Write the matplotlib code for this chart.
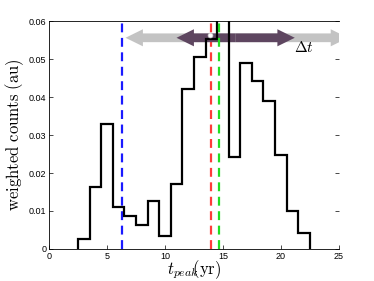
#!/usr/bin/env python3
import numpy as np
import matplotlib
matplotlib.use("Agg")
import matplotlib.pyplot as plt
from matplotlib.patches import FancyArrow

# histogram of peak times (bin centres 3..22 yr)
bin_edges = np.arange(2.5, 23.0, 1.0)
counts = [0.0025, 0.0163, 0.0330, 0.0110, 0.0086, 0.0063, 0.0125, 0.0033,
          0.0172, 0.0420, 0.0505, 0.0553, 0.0620, 0.0243, 0.0490, 0.0443,
          0.0390, 0.0247, 0.0101, 0.0043]

# reference times (dashed lines)
t_blue = 6.3
t_red = 13.95
t_green = 14.65

# arrow ranges
grey_range = (6.6, 25.8)
purple_range = (11.0, 21.2)
arrow_y = 0.0556
mark_x, mark_y = 13.9, 0.0563

plt.rcParams["mathtext.fontset"] = "cm"

fig = plt.figure(figsize=(3.74, 2.81), dpi=100)
ax = fig.add_axes([0.131, 0.114, 0.775, 0.811])

ax.stairs(counts, bin_edges, baseline=0, color="black", lw=1.6, zorder=3)

ax.axvline(t_blue, color="#1a1aff", ls=(0, (4, 2.5)), lw=1.6, zorder=2)
ax.axvline(t_red, color="#ff3b3b", ls=(0, (4, 2.5)), lw=1.6, zorder=2)
ax.axvline(t_green, color="#22dd22", ls=(0, (4, 2.5)), lw=1.6, zorder=4)


def double_arrow(x0, x1, y, color, z):
    mid = 0.5 * (x0 + x1)
    for end in (x0, x1):
        ax.add_patch(FancyArrow(mid, y, end - mid, 0, width=0.0023,
                                head_width=0.0045, head_length=1.5,
                                length_includes_head=True, lw=0,
                                color=color, zorder=z))


double_arrow(grey_range[0], grey_range[1], arrow_y, "#c3c3c3", 1)
double_arrow(purple_range[0], purple_range[1], arrow_y, "#5e4660", 2)
ax.plot([mark_x], [mark_y], "o", ms=3.5, mfc="white", mec="#cccccc",
        mew=0.5, zorder=5)
ax.text(21.1, 0.0530, r"$\Delta t$", fontsize=11, ha="left", va="center")

ax.set_xlim(0, 25)
ax.set_ylim(0, 0.06)
ax.set_xticks([0, 5, 10, 15, 20, 25])
ax.set_yticks([0, 0.01, 0.02, 0.03, 0.04, 0.05, 0.06])
ax.set_yticklabels(["0", "0.01", "0.02", "0.03", "0.04", "0.05", "0.06"])
ax.tick_params(direction="in", length=3, width=0.5, labelsize=6.5,
               right=True, pad=2)
for lab in ax.get_xticklabels() + ax.get_yticklabels():
    lab.set_family("Liberation Sans")
ax.spines["right"].set_visible(False)
for s in ["left", "top", "bottom"]:
    ax.spines[s].set_linewidth(0.6)

ax.set_ylabel(r"$\mathrm{weighted\ counts\ (au)}$", fontsize=12, labelpad=2)
ax.set_xlabel(r"$t_{peak}\!\!\mathrm{(yr)}$", fontsize=12, labelpad=-2)

fig.savefig("out.png", dpi=100)
